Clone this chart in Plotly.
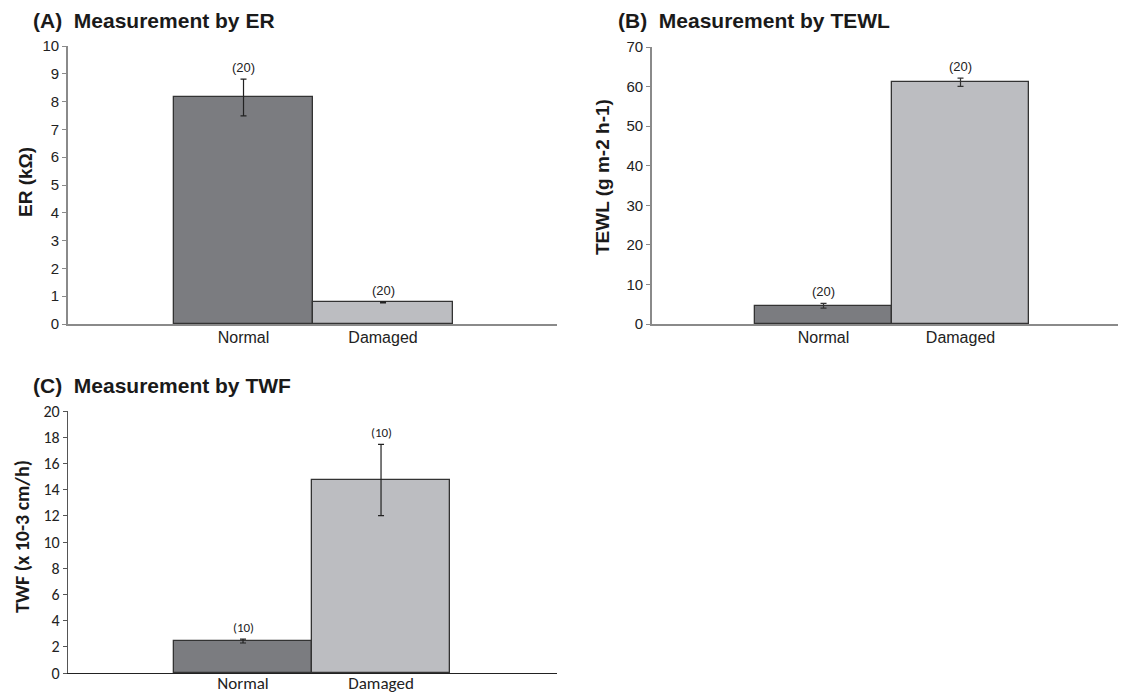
import plotly.graph_objects as go

categories = ["Normal", "Damaged"]

er_values = [8.15, 0.78]
er_errors = [0.66, 0.02]
er_n = ["(20)", "(20)"]

tewl_values = [4.6, 61.1]
tewl_errors = [0.6, 1.05]
tewl_n = ["(20)", "(20)"]

twf_values = [2.44, 14.73]
twf_errors = [0.15, 2.72]
twf_n = ["(10)", "(10)"]

bar_colors = ["#7b7c80", "#bcbdc1"]

# page body has an 8px margin; figure sized to fill the rest of the window
OFF = 8
W, H = 1126 - OFF, 694 - OFF

ARIAL = "Liberation Sans, Arial, sans-serif"
CALI = "Carlito, Lato, sans-serif"


def px_x(p):
    return (p - OFF) / W


def px_y(p):
    return 1 - (p - OFF) / H


fig = go.Figure()

panels = [
    dict(vals=er_values, errs=er_errors, ns=er_n, xa="x", ya="y", ecol="#222222", font=ARIAL),
    dict(vals=tewl_values, errs=tewl_errors, ns=tewl_n, xa="x2", ya="y2", ecol="#333333", font=ARIAL),
    dict(vals=twf_values, errs=twf_errors, ns=twf_n, xa="x3", ya="y3", ecol="#222222", font=CALI),
]

for p in panels:
    fig.add_trace(go.Bar(
        x=categories, y=p["vals"], xaxis=p["xa"], yaxis=p["ya"],
        width=1.0,
        marker=dict(color=bar_colors, line=dict(color="#333333", width=1.3)),
        error_y=dict(type="data", array=p["errs"], visible=True,
                     color=p["ecol"], thickness=1.2, width=3),
        showlegend=False, hoverinfo="skip",
    ))
    for c, v, e, t in zip(categories, p["vals"], p["errs"], p["ns"]):
        fig.add_annotation(x=c, y=v + e, xref=p["xa"], yref=p["ya"], text=t,
                           showarrow=False, yanchor="bottom", yshift=2,
                           font=dict(family=p["font"], size=13, color="#222222"))

common_y = dict(showgrid=False, zeroline=False, ticks="outside", ticklen=4,
                showline=True, fixedrange=True, automargin=False)
common_x = dict(showgrid=False, zeroline=False, ticks="", showline=True,
                type="category", fixedrange=True, automargin=False)

fig.update_layout(
    template="none",
    width=W, height=H,
    autosize=False,
    margin=dict(l=0, r=0, t=0, b=0, pad=0),
    paper_bgcolor="white", plot_bgcolor="white",
    bargap=0,
    showlegend=False,
    xaxis=dict(**common_x, domain=[px_x(68), px_x(557)], range=[-1.258, 2.247],
               anchor="y", linecolor="#8a8a8a", linewidth=1.6, ticklabelstandoff=-2,
               tickfont=dict(family=ARIAL, size=16, color="#222222")),
    yaxis=dict(**common_y, domain=[px_y(324), px_y(46)], range=[0, 10], dtick=1,
               anchor="x", linecolor="#8a8a8a", linewidth=1.6, tickcolor="#8a8a8a",
               tickfont=dict(family=ARIAL, size=15, color="#222222")),
    xaxis2=dict(**common_x, domain=[px_x(652), 1.0], range=[-1.252, 2.208],
                anchor="y2", linecolor="#8a8a8a", linewidth=1.6, ticklabelstandoff=-2,
                tickfont=dict(family=ARIAL, size=16, color="#222222")),
    yaxis2=dict(**common_y, domain=[px_y(324), px_y(47)], range=[0, 70], dtick=10,
                anchor="x2", linecolor="#8a8a8a", linewidth=1.6, tickcolor="#8a8a8a",
                tickfont=dict(family=ARIAL, size=15, color="#222222")),
    xaxis3=dict(**common_x, domain=[px_x(68), px_x(557)], range=[-1.268, 2.275],
                anchor="y3", linecolor="#222222", linewidth=1.2, ticklabelstandoff=-6,
                tickfont=dict(family=CALI, size=17, color="#222222")),
    yaxis3=dict(**common_y, domain=[px_y(673), px_y(411)], range=[0, 20], dtick=2,
                anchor="x3", linecolor="#555555", linewidth=1.2, tickcolor="#555555",
                tickfont=dict(family=CALI, size=16, color="#222222")),
)

titles = [
    ("(A)  Measurement by ER", 31, 20),
    ("(B)  Measurement by TEWL", 616, 20),
    ("(C)  Measurement by TWF", 31, 385),
]
for t, x, y in titles:
    fig.add_annotation(text="<b>" + t + "</b>", x=px_x(x), y=px_y(y), xref="paper", yref="paper",
                       xanchor="left", yanchor="middle", showarrow=False,
                       font=dict(family=ARIAL, size=21, color="#1a1a1a"))

ytitles = [
    ("ER (kΩ)", 25, 182, ARIAL, 19),
    ("TEWL (g m-2 h-1)", 602, 177, ARIAL, 19),
    ("TWF (x 10-3 cm/h)", 22, 537, CALI, 20),
]
for t, x, y, f, s in ytitles:
    fig.add_annotation(text="<b>" + t + "</b>", x=px_x(x), y=px_y(y), xref="paper", yref="paper",
                       xanchor="center", yanchor="middle", textangle=-90, showarrow=False,
                       font=dict(family=f, size=s, color="#1a1a1a"))

fig.write_html("out.html")
